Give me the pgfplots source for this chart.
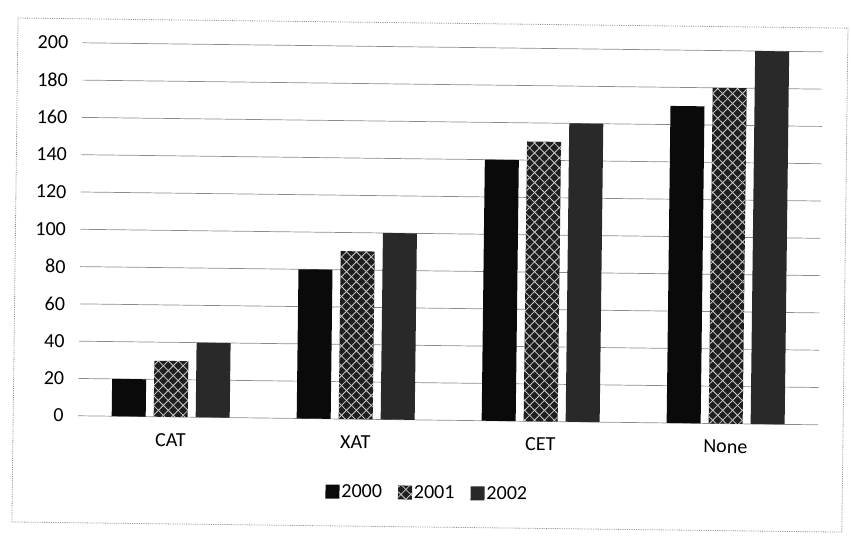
\documentclass[border=0pt]{standalone}
\usepackage{fontspec}
\setmainfont{Carlito}
\usepackage{pgfplots}
\pgfplotsset{compat=1.18}
\usetikzlibrary{patterns.meta}

\begin{document}
\begin{tikzpicture}[x=1pt,y=1pt]
% page size
\path (0,0) rectangle (851,539);
% the scan is turned a little clockwise
\begin{scope}[transform canvas={rotate around={-0.7:(425,270)}}]
\draw[black!45, line width=0.8pt, densely dotted] (15,12) rectangle (845,516);

\begin{axis}[
    at={(80pt,119pt)}, anchor=south west,
    scale only axis,
    width=740pt, height=373pt,
    ybar=8pt, bar width=34pt,
    xmin=-0.5, xmax=3.5,
    ymin=0, ymax=200,
    xtick=data,
    xticklabels={CAT,XAT,CET,None},
    ytick={0,20,...,200},
    ymajorgrids,
    grid style={black!45, line width=0.7pt},
    axis line style={draw=none},
    major tick length=0pt,
    tick label style={font=\fontsize{20}{23}\selectfont},
    /pgf/number format/assume math mode=true,
    yticklabel style={xshift=-11pt},
    xticklabel style={yshift=-13pt},
    legend columns=3,
    legend style={
        at={(axis description cs:0.473,-0.195)}, anchor=center,
        draw=none, fill=none,
        font=\fontsize{20}{23}\selectfont,
        /tikz/every even column/.append style={column sep=14pt}
    },
    legend image code/.code={\draw[#1, draw=none] (0pt,-7pt) rectangle (14pt,7pt);},
]
\addplot[fill=black!96, draw=none] coordinates {(0,20) (1,80) (2,140) (3,170)};
\addlegendentry{2000}
\addplot[fill=black!88, draw=none,
    postaction={pattern={Lines[angle=45,distance=7pt,line width=0.8pt]}, pattern color=white!80!black},
    postaction={pattern={Lines[angle=-45,distance=7pt,line width=0.8pt]}, pattern color=white!80!black}]
    coordinates {(0,30) (1,90) (2,150) (3,180)};
\addlegendentry{2001}
\addplot[fill=black!84, draw=none] coordinates {(0,40) (1,100) (2,160) (3,200)};
\addlegendentry{2002}
\end{axis}
\end{scope}
\end{tikzpicture}
\end{document}
